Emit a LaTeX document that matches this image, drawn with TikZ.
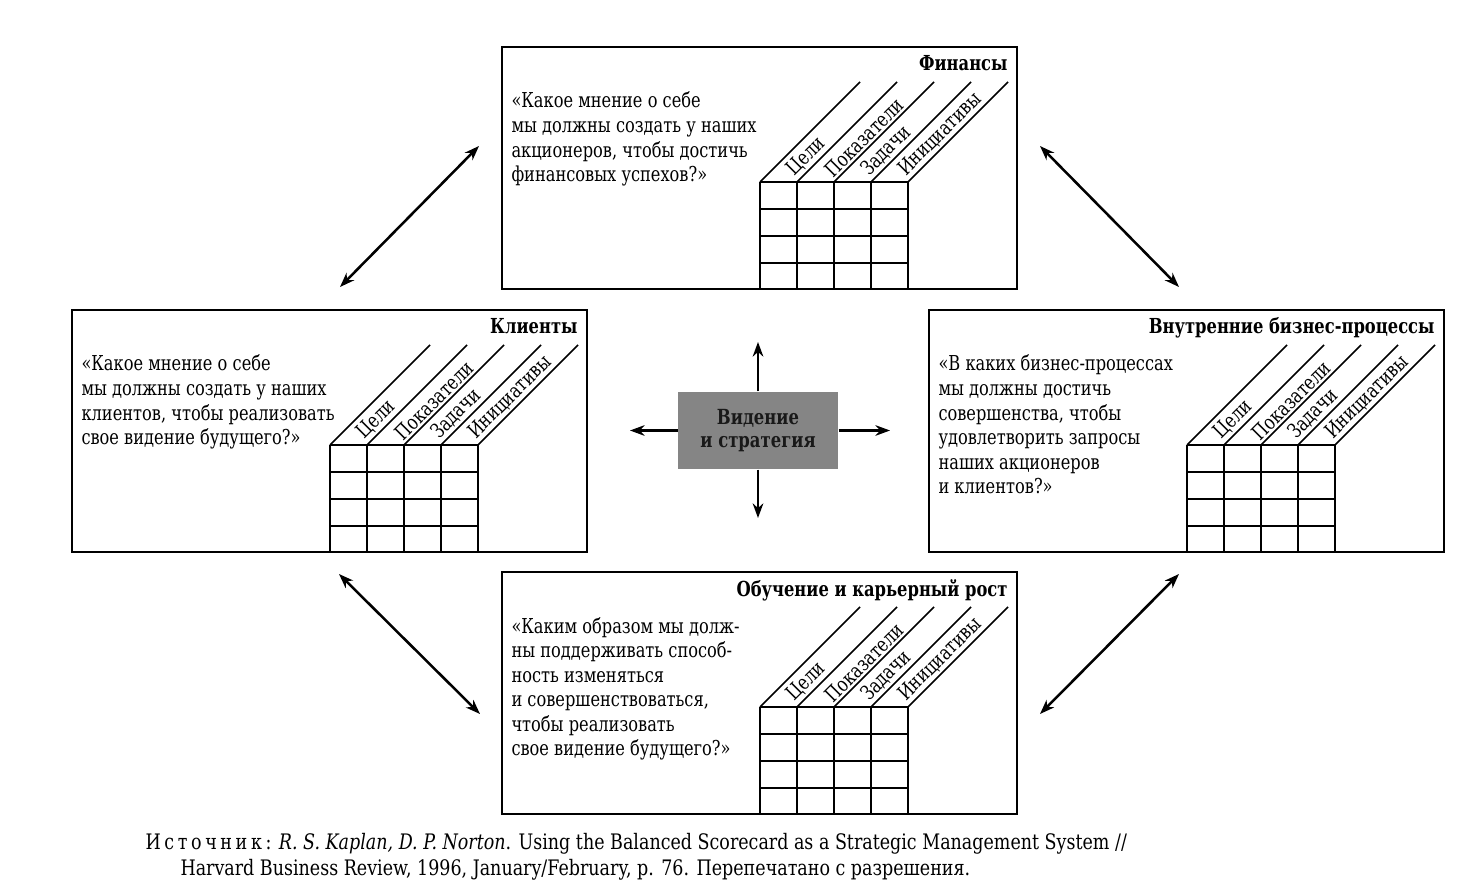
\documentclass[tikz,border=0pt]{standalone}
\usepackage{fontspec}
\setmainfont[FakeStretch=0.79]{DejaVu Serif}
\newfontfamily\srcfont[FakeStretch=0.82]{DejaVu Serif}
\newfontfamily\spacedfont[FakeStretch=0.82,LetterSpace=17]{DejaVu Serif}
\usetikzlibrary{arrows.meta}

\tikzset{every picture/.style={line width=0.75pt}}
\tikzset{
  card/.style={draw, line width=1.5pt, minimum width=386.25pt, minimum height=181.5pt, inner sep=0pt, outer sep=0pt, anchor=north west},
  cardtitle/.style={anchor=base east, inner sep=0pt, font=\bfseries\fontsize{15.5}{18}\selectfont},
  question/.style={anchor=base west, inner sep=0pt, font=\fontsize{15.4}{18.4}\selectfont},
  colhead/.style={rotate=45, anchor=south west, inner sep=1.5pt, font=\fontsize{15.3}{17}\selectfont},
  gridline/.style={line width=1.5pt},
  slant/.style={line width=1.1pt},
  vision/.style={fill=black!48, minimum width=120pt, minimum height=57.75pt, inner sep=0pt, align=center, text=black!90, font=\bfseries\fontsize{15.6}{17.5}\selectfont},
  oneway/.style={-{Stealth[length=11pt,width=8pt]}, line width=1.6pt},
  twoway/.style={{Stealth[length=11pt,width=8pt]}-{Stealth[length=11pt,width=8pt]}, line width=1.9pt},
  source/.style={anchor=base west, inner sep=0pt, font=\srcfont\fontsize{16}{19}\selectfont},
}

% one perspective: frame, title, question and the table with its slanted heads
\newcommand{\scorecard}[5]{%
  \begin{scope}[shift={(#2,#3)}]
    \node[card] (#1) at (0,0) {};
    \node[cardtitle] (#1-title) at (506,24) {#4};
    \node[question] (#1-text) at (9,61) {\begin{tabular}[t]{@{}l@{}}#5\end{tabular}};
    \foreach \col in {0,...,4}
      \draw[gridline] (258+37*\col,135) -- (258+37*\col,242);
    \foreach \row in {135,162,189,216}
      \draw[gridline] (258,\row) -- (406,\row);
    \foreach \col in {0,...,4}
      \draw[slant] (258+37*\col,135) -- (358+37*\col,35);
    \foreach \hd [count=\col] in {Цели,Показатели,Задачи,Инициативы}
      \node[colhead] (#1-h\col) at (258+37*\col,135) {\hd};
  \end{scope}}

\begin{document}
\begin{tikzpicture}[x=0.75pt,y=0.75pt,yscale=-1]
	\useasboundingbox (0,0) rectangle (1480,887);

	%Shape: Finance
	\scorecard{fin}{502}{47}{Финансы}{«Какое мнение о себе\\мы должны создать у наших\\акционеров, чтобы достичь\\финансовых успехов?»}
	%Shape: Customers
	\scorecard{cust}{72}{310}{Клиенты}{«Какое мнение о себе\\мы должны создать у наших\\клиентов, чтобы реализовать\\свое видение будущего?»}
	%Shape: Internal processes
	\scorecard{proc}{929}{310}{Внутренние бизнес-процессы}{«В каких бизнес-процессах\\мы должны достичь\\совершенства, чтобы\\удовлетворить запросы\\наших акционеров\\и клиентов?»}
	%Shape: Learning and growth
	\scorecard{learn}{502}{572}{Обучение и карьерный рост}{«Каким образом мы долж-\\ны поддерживать способ-\\ность изменяться\\и совершенствоваться,\\чтобы реализовать\\свое видение будущего?»}

	% Text Node
	\node[vision] (vis) at (758,430.5) {Видение\\и стратегия};

	%Straight Lines
	\coordinate (vis-up) at (758,342);
	\coordinate (vis-down) at (758,518);
	\coordinate (vis-left) at (630,430.5);
	\coordinate (vis-right) at (890,430.5);
	\draw[oneway] (vis.north) -- (vis-up);
	\draw[oneway] (vis.south) -- (vis-down);
	\draw[oneway] (vis.west) -- (vis-left);
	\draw[oneway] (vis.east) -- (vis-right);

	%Straight Lines
	\coordinate (cf-a) at (340,287);
	\coordinate (cf-b) at (479,146);
	\coordinate (fp-a) at (1040,146);
	\coordinate (fp-b) at (1179,287);
	\coordinate (cl-a) at (339,574);
	\coordinate (cl-b) at (480,714);
	\coordinate (pl-a) at (1179,574);
	\coordinate (pl-b) at (1040,714);
	\draw[twoway] (cf-a) -- (cf-b);
	\draw[twoway] (fp-a) -- (fp-b);
	\draw[twoway] (cl-a) -- (cl-b);
	\draw[twoway] (pl-a) -- (pl-b);

	% Text Node
	\node[source] (src1) at (145,849) {{\spacedfont Источник:} \textit{R. S. Kaplan, D. P. Norton}. Using the Balanced Scorecard as a Strategic Management System //};
	% Text Node
	\node[source] (src2) at (180,875) {Harvard Business Review, 1996, January/February, p. 76. Перепечатано с разрешения.};

\end{tikzpicture}
\end{document}
